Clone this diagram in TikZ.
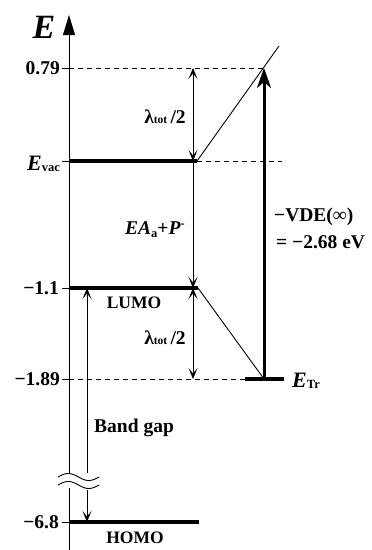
\documentclass[tikz,border=0pt]{standalone}
\usepackage{fontspec}
\setmainfont{Liberation Serif}
\usetikzlibrary{arrows.meta}
\begin{document}
\begin{tikzpicture}[x=1pt,y=-1pt,
  every node/.style={inner sep=0pt},
  font=\bfseries\fontsize{19.5}{21}\selectfont,
  lvl/.style={line width=3.5pt},
  thin/.style={line width=0.9pt},
  dsh/.style={line width=0.8pt, dash pattern=on 5pt off 4pt},
  vtip/.tip={Stealth[length=11pt,width=9pt,inset=5.5pt]},
  dbl/.style={thin, vtip-vtip},
  sgl/.style={thin, -vtip},
  big/.style={line width=3pt, -{Stealth[length=20pt,width=14pt,inset=6pt]}}]
\useasboundingbox (0,0) rectangle (372,550);

% axis
\coordinate (axB) at (69,550);
\coordinate (brkL) at (69,488);
\coordinate (brkU) at (69,474);
\coordinate (axT) at (69,15);
\draw[thin] (axB) -- (brkL);
\draw[thin, -{Triangle[length=20pt,width=12pt]}] (brkU) -- (axT);
\node (lE) at (44,27) {\fontsize{34}{34}\selectfont\textit{E}};

% levels coordinates
\coordinate (topL) at (69,68);
\coordinate (topX) at (264,68);
\coordinate (diagE) at (279,46);
\coordinate (vacL) at (69,161);
\coordinate (vacR) at (197,161);
\coordinate (vacD) at (282,161);
\coordinate (lumoL) at (69,288);
\coordinate (lumoR) at (198,288);
\coordinate (dshL) at (69,379);
\coordinate (trL) at (245,379);
\coordinate (trM) at (264,379);
\coordinate (trR) at (284,379);
\coordinate (homoL) at (69,522);
\coordinate (homoR) at (199,522);

% ticks
\foreach \yy in {68,161,288,379,522} \draw[thin] (62,\yy) -- (69,\yy);

% dashed lines
\draw[dsh] (topL) -- (topX);
\draw[dsh] (vacR) -- (vacD);
\draw[dsh] (dshL) -- (trL);

% thick levels
\draw[lvl] (vacL) -- (vacR);
\draw[lvl] (lumoL) -- (lumoR);
\draw[lvl] (trL) -- (trR);
\draw[lvl] (homoL) -- (homoR);

% diagonals
\draw[thin] (vacR) -- (diagE);
\draw[thin] (lumoR) -- (trM);

% vertical arrows
\coordinate (a1) at (193,68);
\coordinate (a2) at (193,161);
\coordinate (a3) at (193,288);
\coordinate (a4) at (193,379);
\draw[dbl] (a1) -- (a2);
\draw[sgl] (a2) -- (a3);
\draw[dbl] (a3) -- (a4);

% big arrow
\draw[big] (trM) -- (topX);

% band gap arrow
\coordinate (b1) at (87,288);
\coordinate (b2) at (87,473);
\coordinate (b3) at (87,490);
\coordinate (b4) at (87,522);
\draw[sgl] (b2) -- (b1);
\draw[sgl] (b3) -- (b4);

% break symbol
\draw[thin] plot[domain=0:1, samples=40, smooth] ({58+41*\x}, {477-3.5*sin(360*\x)});
\draw[thin] plot[domain=0:1, samples=40, smooth] ({58+41*\x}, {485-3.5*sin(360*\x)});

% tick labels
\node[anchor=east] (l079) at (60,68) {0.79};
\node[anchor=east] (lvac) at (60,164) {\fontsize{22}{22}\selectfont\textit{E}\raisebox{-1pt}{\fontsize{12.5}{12}\selectfont vac}};
\node[anchor=east] (l11) at (59,288) {−1.1};
\node[anchor=east] (l189) at (60,379) {−1.89};
\node[anchor=east] (l68) at (59,522) {−6.8};

% other labels
\node (lam1) at (165,117) {λ{\fontsize{11.5}{12}\selectfont tot}\,/2};
\node (lam2) at (165,338) {λ{\fontsize{11.5}{12}\selectfont tot}\,/2};
\node (ea) at (155,230) {\textit{EA}\raisebox{-3pt}{\fontsize{12.5}{12}\selectfont a}+\textit{P}\raisebox{7pt}{\fontsize{12.5}{12}\selectfont -}};
\node (lumo) at (134,303) {\fontsize{17.5}{18}\selectfont LUMO};
\node (homo) at (135,538) {\fontsize{17.5}{18}\selectfont HOMO};
\node[anchor=west] (vde1) at (274,217) {−VDE(∞)};
\node[anchor=west] (vde2) at (276,242) {= −2.68 eV};
\node[anchor=west] (etr) at (292,381) {\fontsize{22}{22}\selectfont\textit{E}\raisebox{-1pt}{\fontsize{12.5}{12}\selectfont Tr}};
\node[anchor=west] (bg) at (94,428) {Band gap};
\end{tikzpicture}
\end{document}
